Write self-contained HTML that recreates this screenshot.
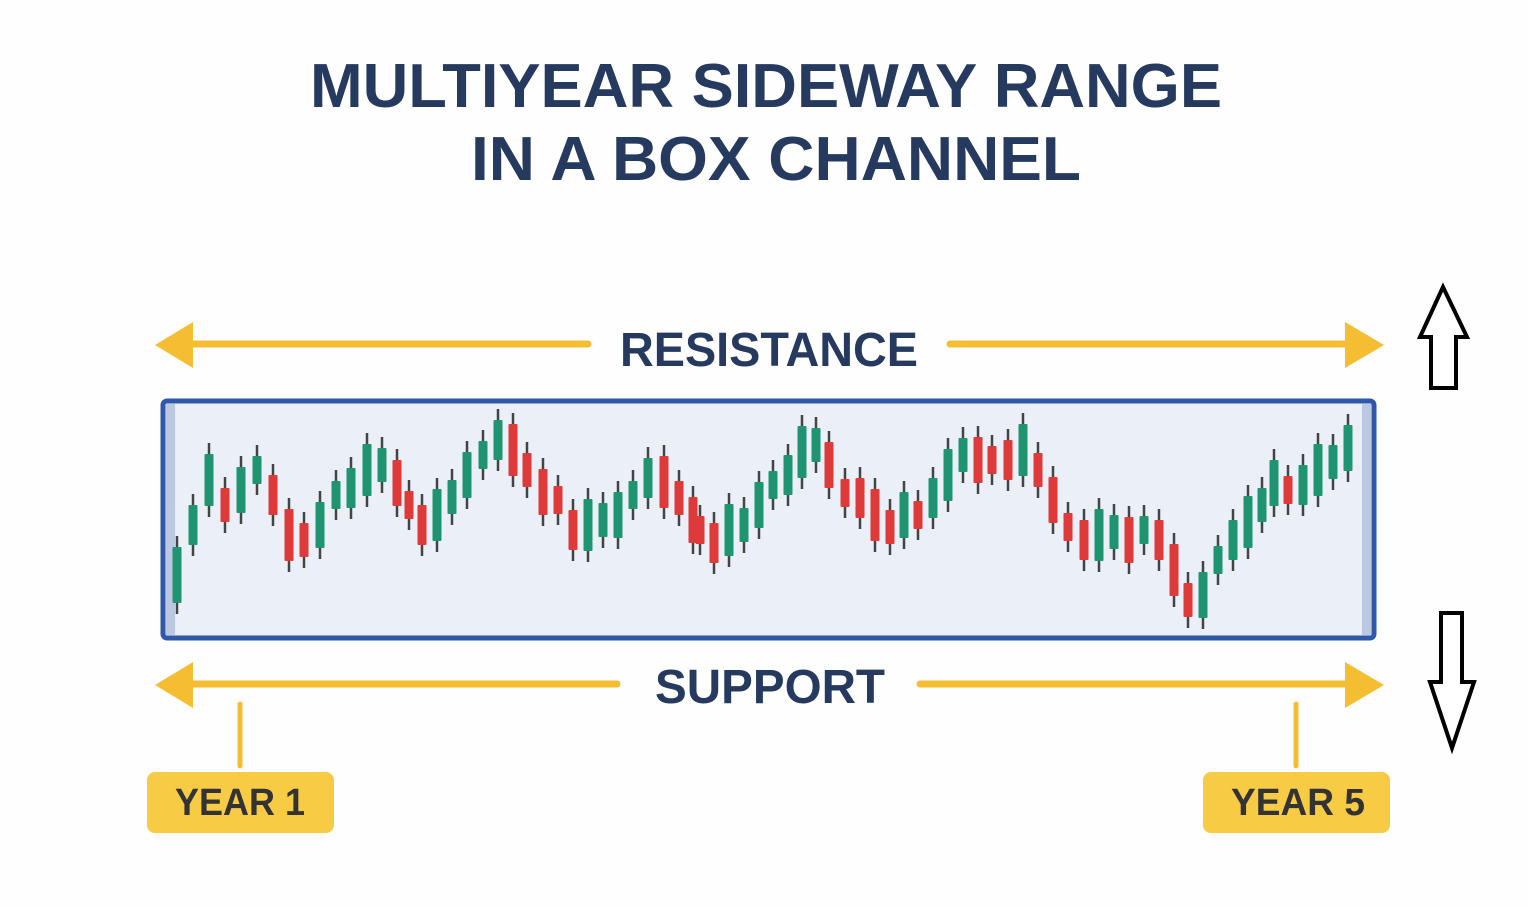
<!DOCTYPE html>
<html><head><meta charset="utf-8"><style>
html,body{margin:0;padding:0;background:#fff;}
svg{display:block;}
text{font-family:"Liberation Sans",sans-serif;font-weight:bold;}
</style></head><body>
<svg id="s" width="1528" height="907" viewBox="0 0 1528 907" xmlns="http://www.w3.org/2000/svg">
<rect width="1528" height="907" fill="#fefefe"/>
<text x="310" y="107" font-size="62" fill="#253a5e" textLength="912" lengthAdjust="spacingAndGlyphs">MULTIYEAR SIDEWAY RANGE</text>
<text x="471" y="180" font-size="62" fill="#253a5e" textLength="610" lengthAdjust="spacingAndGlyphs">IN A BOX CHANNEL</text>

<line x1="185" y1="344" x2="588" y2="344" stroke="#f4bd32" stroke-width="7" stroke-linecap="round"/>
<polygon points="155,345 193,322 193,368" fill="#f4bd32"/>
<line x1="950" y1="344" x2="1352" y2="344" stroke="#f4bd32" stroke-width="7" stroke-linecap="round"/>
<polygon points="1384,345 1345,322 1345,368" fill="#f4bd32"/>
<text x="620" y="366" font-size="48" fill="#253a5e" textLength="298" lengthAdjust="spacingAndGlyphs">RESISTANCE</text>

<line x1="185" y1="684" x2="617" y2="684" stroke="#f4bd32" stroke-width="7" stroke-linecap="round"/>
<polygon points="155,685 193,662 193,708" fill="#f4bd32"/>
<line x1="920" y1="684" x2="1352" y2="684" stroke="#f4bd32" stroke-width="7" stroke-linecap="round"/>
<polygon points="1384,685 1345,662 1345,708" fill="#f4bd32"/>
<text x="655" y="703" font-size="48" fill="#253a5e" textLength="230" lengthAdjust="spacingAndGlyphs">SUPPORT</text>

<rect x="163" y="401" width="1211" height="237" rx="4" fill="#eaeff8" stroke="#2f58a8" stroke-width="5"/>
<rect x="166" y="404" width="9" height="231" fill="#bcc8e2"/>
<rect x="1362" y="404" width="9" height="231" fill="#bcc8e2"/>
<g id="c"></g>

<line x1="240" y1="704" x2="240" y2="766" stroke="#f4bd32" stroke-width="5" stroke-linecap="round"/>
<rect x="147" y="772" width="187" height="61" rx="8" fill="#f8cb45"/>
<text x="175" y="815" font-size="38" fill="#333" textLength="130" lengthAdjust="spacingAndGlyphs">YEAR 1</text>
<line x1="1296" y1="704" x2="1296" y2="766" stroke="#f4bd32" stroke-width="5" stroke-linecap="round"/>
<rect x="1203" y="772" width="187" height="61" rx="8" fill="#f8cb45"/>
<text x="1231" y="815" font-size="38" fill="#333" textLength="134" lengthAdjust="spacingAndGlyphs">YEAR 5</text>

<polygon points="1443,287 1467,337 1456,337 1456,388 1431,388 1431,337 1420,337" fill="#fff" stroke="#000" stroke-width="4" stroke-linejoin="miter"/>
<polygon points="1441,613 1462,613 1462,682 1474,682 1452,748 1430,682 1441,682" fill="#fff" stroke="#000" stroke-width="4" stroke-linejoin="miter"/>
</svg>
<script>
var d=[[177,575],[193,525],[209,480],[225,505],[241,490],[257,470],[273,495],[289,535],[304,540],[320,525],[336,495],[351,488],[367,470],[382,465],[397,483],[409,505],[422,525],[437,515],[452,497],[467,475],[483,455],[498,440],[513,450],[527,470],[543,492],[558,500],[573,530],[588,525],[603,520],[618,515],[633,495],[648,478],[664,482],[679,498],[693,520],[700,530],[714,543],[729,530],[744,525],[759,505],[773,485],[788,475],[802,452],[816,445],[829,465],[845,493],[860,498],[875,515],[890,527],[904,515],[918,515],[933,498],[948,475],[963,455],[978,460],[992,460],[1008,460],[1023,450],[1038,470],[1053,500],[1068,527],[1084,540],[1099,535],[1114,532],[1129,540],[1144,530],[1159,540],[1174,570],[1188,600],[1203,595],[1218,560],[1233,540],[1248,522],[1262,505],[1274,483],[1288,490],[1303,485],[1318,470],[1333,462],[1348,448]];
var g=document.getElementById('c'),h='';
for(var i=0;i<d.length;i++){var x=d[i][0],y=d[i][1];var prev=i>0?d[i-1][1]:y+20;var up=y<prev;
var bh=28+((i*37)%5)*6;if(i==0)bh=56;var col=up?'#1f9470':'#df3a3a';
h+='<line x1="'+x+'" y1="'+(y-bh/2-11)+'" x2="'+x+'" y2="'+(y+bh/2+11)+'" stroke="#444" stroke-width="2.5"/>';
h+='<rect x="'+(x-4.5)+'" y="'+(y-bh/2)+'" width="9" height="'+bh+'" rx="1" fill="'+col+'"/>';}
g.innerHTML=h;
</script>
</body></html>
